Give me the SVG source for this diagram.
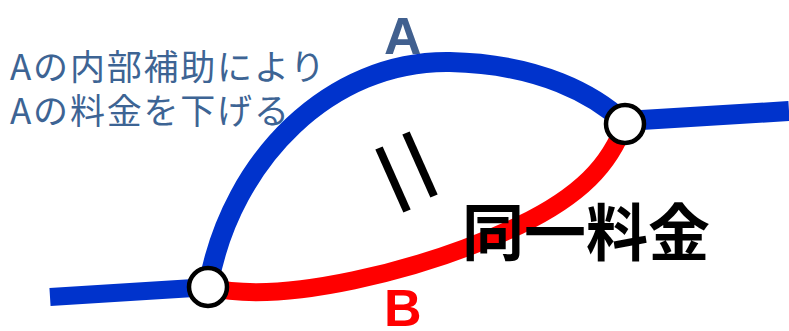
<svg xmlns="http://www.w3.org/2000/svg" width="789" height="331" viewBox="0 0 789 331">
<style>
.blue{fill:none;stroke:#0033cc;stroke-linecap:butt}
.red{fill:none;stroke:#ff0000}
.node{fill:#ffffff;stroke:#000000;stroke-width:4.5}
.note{font-family:"Noto Sans CJK JP","Liberation Sans",sans-serif;font-size:35px;letter-spacing:1.8px;fill:#3d6494}
.lbl{font-family:"Liberation Sans",Arial,sans-serif;font-weight:bold;font-size:52px}
.big{font-family:"Noto Sans CJK JP",sans-serif;font-weight:bold;font-size:62px;fill:#000}
</style>
<rect width="789" height="331" fill="#ffffff"/>
<g id="connectors">
<path class="blue" stroke-width="18" d="M50,297 L210,287"/>
<path class="blue" stroke-width="20" d="M625,121 L789,111"/>
<path class="blue" stroke-width="20" d="M209,282 C232,160 330,60 450,62 C540,64 595,95 625,123"/>
<path class="red" stroke-width="18" d="M208,287 C280,305 420,272 520,225 C580,196 610,165 625,123"/>
</g>
<g id="equal">
<line x1="379" y1="148" x2="407" y2="211" stroke="#000" stroke-width="8"/>
<line x1="406" y1="133" x2="434" y2="196" stroke="#000" stroke-width="8"/>
</g>
<g id="node-left"><circle class="node" cx="208" cy="287" r="19"/></g>
<g id="node-right"><circle class="node" cx="625" cy="124" r="19"/></g>
<g id="label-A"><text class="lbl" x="384" y="54" fill="#41608f">A</text></g>
<g id="label-B"><text class="lbl" x="384" y="326" fill="#ff0000">B</text></g>
<g id="note"><text class="note" x="10" y="80">Aの内部補助により</text><text class="note" x="10" y="124">Aの料金を下げる</text></g>
<g id="same"><text class="big" x="462" y="256">同一料金</text></g>
</svg>
